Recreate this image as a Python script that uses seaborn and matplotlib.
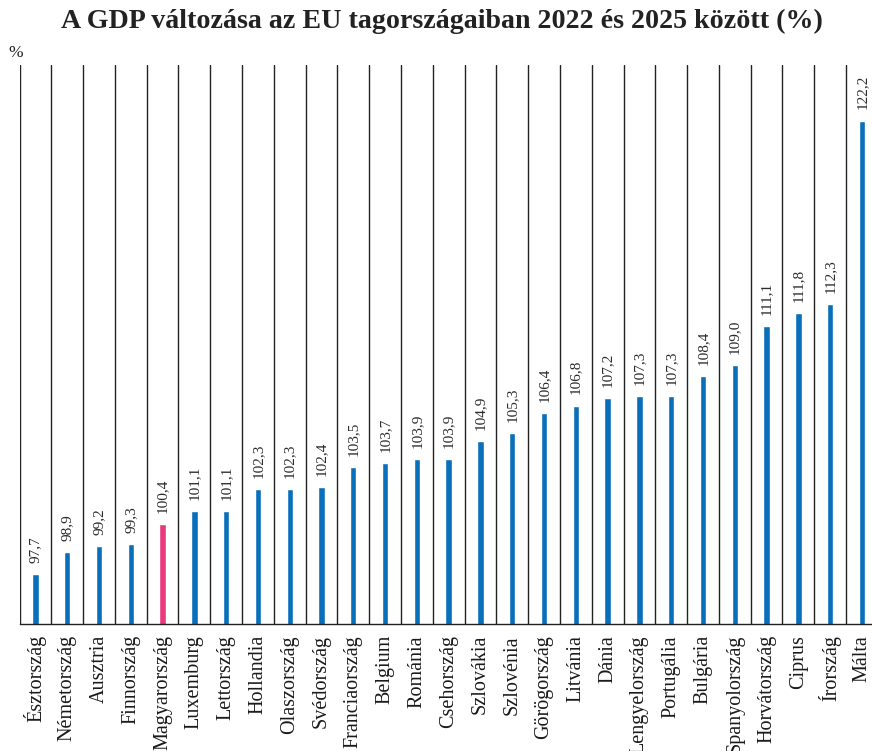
import matplotlib
matplotlib.use("Agg")
import matplotlib.pyplot as plt
import seaborn as sns
import pandas as pd

countries = ["Észtország", "Németország", "Ausztria", "Finnország", "Magyarország",
             "Luxemburg", "Lettország", "Hollandia", "Olaszország", "Svédország",
             "Franciaország", "Belgium", "Románia", "Csehország", "Szlovákia",
             "Szlovénia", "Görögország", "Litvánia", "Dánia", "Lengyelország",
             "Portugália", "Bulgária", "Spanyolország", "Horvátország", "Ciprus",
             "Írország", "Málta"]
values = [97.7, 98.9, 99.2, 99.3, 100.4, 101.1, 101.1, 102.3, 102.3, 102.4,
          103.5, 103.7, 103.9, 103.9, 104.9, 105.3, 106.4, 106.8, 107.2, 107.3,
          107.3, 108.4, 109.0, 111.1, 111.8, 112.3, 122.2]
highlight = "Magyarország"

BLUE = "#0A6FBA"
PINK = "#E83A7E"

sns.set_theme(style="white")
plt.rcParams["font.family"] = ["Liberation Serif", "DejaVu Serif"]

df = pd.DataFrame({"country": countries, "value": values})
palette = {c: (PINK if c == highlight else BLUE) for c in countries}

fig = plt.figure(figsize=(8.72, 7.51), dpi=100)
W, H = 872, 751
ax = fig.add_axes([19.5 / W, (H - 624) / H, (W - 19.5) / W, (624 - 65) / H])

sns.barplot(data=df, x="country", y="value", hue="country", palette=palette,
            width=0.2, legend=False, ax=ax, saturation=1)

n = len(countries)
ax.set_ylim(95, 125.2)
ax.set_xlim(-0.5, (W - 19.5) / 31.79 - 0.5)

for i in range(n):
    ax.axvline(i - 0.5, color="#222222", lw=1.0, zorder=0)

for i, v in enumerate(values):
    ax.annotate(f"{v:.1f}".replace(".", ","), (i, v), xytext=(0, 8),
                textcoords="offset points", rotation=90, ha="center", va="bottom",
                fontsize=11, color="#2a2a2a")

ax.set_xlabel("")
ax.set_ylabel("")
ax.set_yticks([])
ax.tick_params(axis="x", length=0, pad=8)
ax.set_xticks(range(n))
ax.set_xticklabels(countries, rotation=90, fontsize=14.5, va="top", ha="center", color="#1a1a1a")
for s in ["top", "right", "left"]:
    ax.spines[s].set_visible(False)
ax.spines["bottom"].set_color("#222222")
ax.spines["bottom"].set_linewidth(1.0)

fig.text(442 / W, 1 - 21 / H, "A GDP változása az EU tagországaiban 2022 és 2025 között (%)",
         ha="center", va="center", fontsize=20.2, fontweight="bold", color="#222222")
fig.text(16 / W, 1 - 53 / H, "%", ha="center", va="center", fontsize=12.5, color="#222222")

fig.savefig("out.png", dpi=100)
